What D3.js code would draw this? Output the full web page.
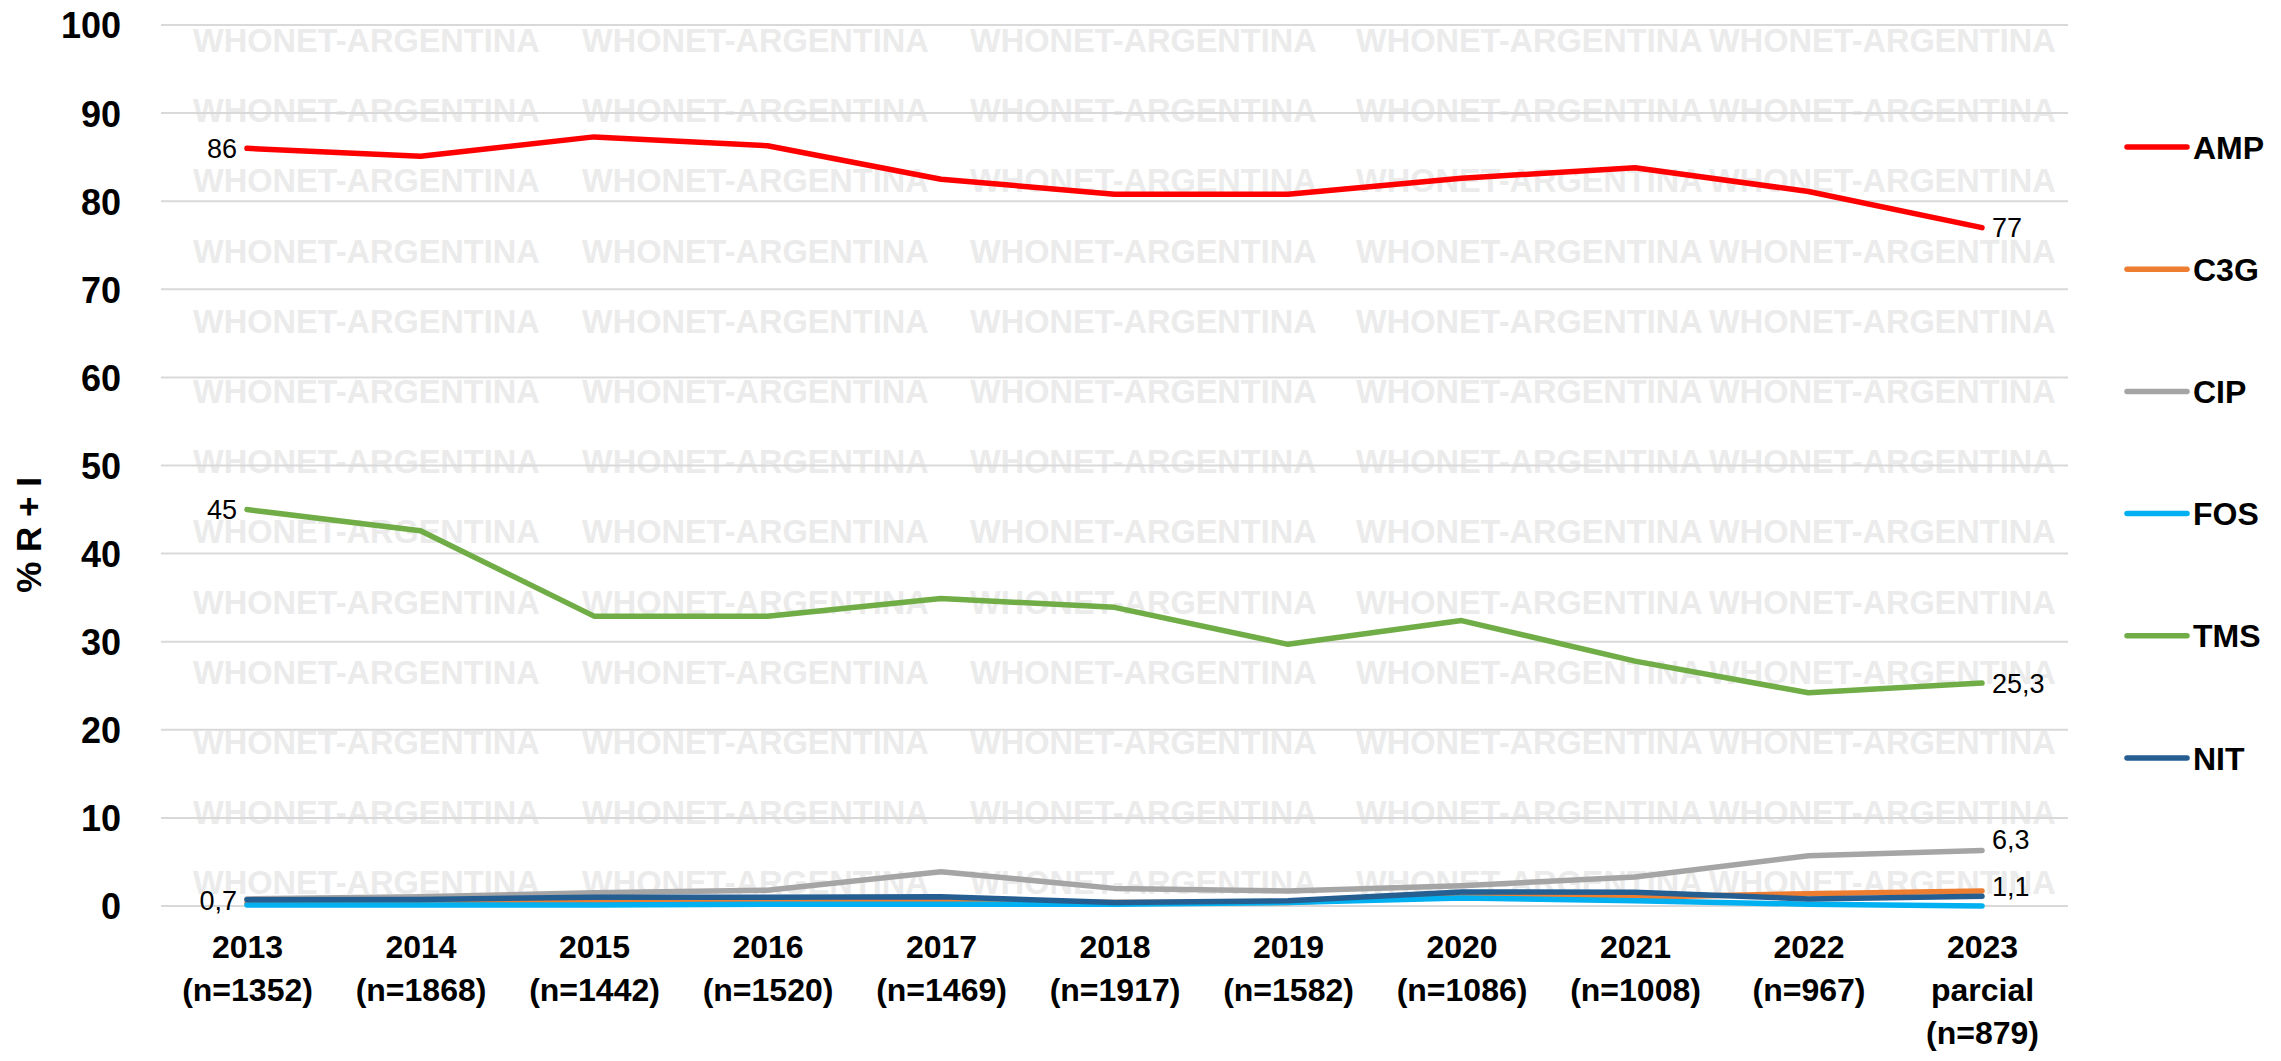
<!DOCTYPE html>
<html><head><meta charset="utf-8">
<script src="https://cdn.jsdelivr.net/npm/d3@7"></script>
<style>html,body{margin:0;padding:0;background:#fff;}svg{display:block;}</style>
</head><body>
<script>
const years = ["2013","2014","2015","2016","2017","2018","2019","2020","2021","2022","2023"];
const yearLabels = [["2013","(n=1352)"],["2014","(n=1868)"],["2015","(n=1442)"],["2016","(n=1520)"],["2017","(n=1469)"],["2018","(n=1917)"],["2019","(n=1582)"],["2020","(n=1086)"],["2021","(n=1008)"],["2022","(n=967)"],["2023","parcial","(n=879)"]];
const seriesNames = ["AMP","C3G","CIP","FOS","TMS","NIT"];
const seriesColors = ["#ff0000","#ed7d31","#a5a5a5","#00b0f0","#70ad47","#255e91"];
const AMP = [86, 85.1, 87.3, 86.3, 82.5, 80.8, 80.8, 82.6, 83.8, 81.1, 77];
const C3G = [0.3, 0.4, 0.5, 0.5, 0.5, 0.4, 0.4, 1.2, 1.0, 1.4, 1.7];
const CIP = [0.8, 1.05, 1.5, 1.8, 3.9, 2.0, 1.7, 2.3, 3.3, 5.7, 6.3];
const FOS = [0.1, 0.1, 0.1, 0.2, 0.2, 0.2, 0.4, 0.9, 0.6, 0.2, 0.0];
const TMS = [45, 42.6, 32.9, 32.9, 34.9, 33.9, 29.7, 32.4, 27.8, 24.2, 25.3];
const NIT = [0.7, 0.75, 1.0, 1.0, 1.05, 0.4, 0.6, 1.6, 1.55, 0.8, 1.1];
const yTicks = [0,10,20,30,40,50,60,70,80,90,100];
const yTitle = "% R + I";
const watermarkText = "WHONET-ARGENTINA";
// data labels: [series, index, text, side]
const dataLabels = [["AMP",0,"86","left"],["TMS",0,"45","left"],["NIT",0,"0,7","left"],
                    ["AMP",10,"77","right"],["TMS",10,"25,3","right"],["CIP",10,"6,3","right"],["NIT",10,"1,1","right"]];

const seriesValues = {AMP, C3G, CIP, FOS, TMS, NIT};
const W = 2281, H = 1061;
const svg = d3.select("body").append("svg").attr("width", W).attr("height", H);
const FONT = "'Liberation Sans', Arial, sans-serif";

const plotLeft = 161, plotRight = 2068;
const x = d3.scalePoint().domain(years).range([247, 1982]);
const y = d3.scaleLinear().domain([0, 100]).range([906, 25]);

// watermark
const wmG = svg.append("g");
const wmCols = [193, 582, 970, 1356, 1709];
const wmRows = d3.range(13);
wmRows.forEach(r => wmCols.forEach(cx => {
  wmG.append("text").attr("x", cx).attr("y", 52 + r * 70.2)
    .attr("font-family", FONT).attr("font-weight", "bold").attr("font-size", 32.5)
    .attr("fill", "#ebebeb").text(watermarkText);
}));

// gridlines
svg.append("g").selectAll("line").data(yTicks).join("line")
  .attr("x1", plotLeft).attr("x2", plotRight)
  .attr("y1", d => y(d)).attr("y2", d => y(d))
  .attr("stroke", "#d9d9d9").attr("stroke-width", 2);

// y axis
const yAxis = d3.axisLeft(y).tickValues(yTicks).tickSize(0).tickPadding(0);
const yg = svg.append("g").attr("transform", "translate(121,0)").call(yAxis);
yg.select(".domain").remove();
yg.selectAll("text").attr("font-family", FONT).attr("font-weight", "bold")
  .attr("font-size", 36).attr("fill", "#000").attr("dy", "0.36em");

svg.append("text").attr("transform", "translate(41,535) rotate(-90)")
  .attr("text-anchor", "middle").attr("font-family", FONT).attr("font-weight", "bold")
  .attr("font-size", 35).attr("fill", "#000").text(yTitle);

// x axis labels
const xAxis = d3.axisBottom(x).tickSize(0).tickFormat(() => "");
const xg = svg.append("g").attr("transform", "translate(0,906)").call(xAxis);
xg.select(".domain").remove();
xg.selectAll(".tick").each(function(d, i) {
  const t = d3.select(this).append("text").attr("text-anchor", "middle")
    .attr("font-family", FONT).attr("font-weight", "bold").attr("font-size", 32).attr("fill", "#000");
  yearLabels[i].forEach((s, j) => {
    t.append("tspan").attr("x", 0).attr("y", 52 + j * 43).text(s);
  });
});

// lines
const line = d3.line().x((d, i) => x(years[i])).y(d => y(d)).curve(d3.curveLinear);
seriesNames.forEach((name, k) => {
  svg.append("path").datum(seriesValues[name]).attr("d", line)
    .attr("fill", "none").attr("stroke", seriesColors[k]).attr("stroke-width", 5.5)
    .attr("stroke-linejoin", "round").attr("stroke-linecap", "round");
});

// data labels
const labelDy = {"AMP":0, "TMS":0, "NIT":-10, "CIP":-11};
dataLabels.forEach(([name, i, txt, side]) => {
  const px = x(years[i]), py = y(seriesValues[name][i]);
  const dy = (side === "right") ? (labelDy[name] || 0) : 0;
  svg.append("text").attr("x", side === "left" ? px - 10 : px + 10).attr("y", py + dy)
    .attr("dy", "0.36em").attr("text-anchor", side === "left" ? "end" : "start")
    .attr("font-family", FONT).attr("font-size", 27).attr("fill", "#000").text(txt);
});

// legend
const lg = svg.append("g");
seriesNames.forEach((name, k) => {
  const ly = 147 + k * 122.2;
  lg.append("line").attr("x1", 2127).attr("x2", 2187).attr("y1", ly).attr("y2", ly)
    .attr("stroke", seriesColors[k]).attr("stroke-width", 5.5).attr("stroke-linecap", "round");
  lg.append("text").attr("x", 2193).attr("y", ly).attr("dy", "0.36em")
    .attr("font-family", FONT).attr("font-weight", "bold").attr("font-size", 32).attr("fill", "#000").text(name);
});
</script>
</body></html>
